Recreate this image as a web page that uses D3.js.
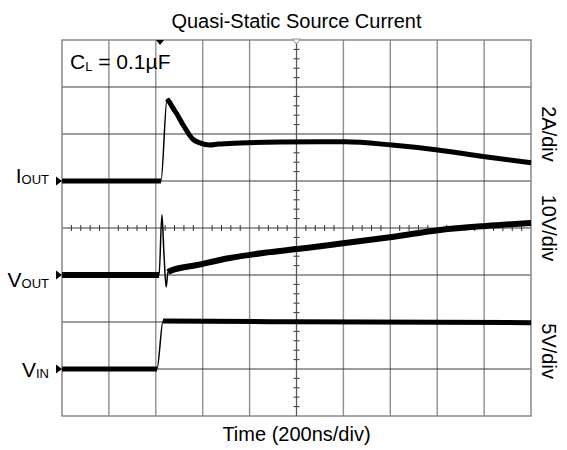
<!DOCTYPE html>
<html><head><meta charset="utf-8">
<script src="https://cdn.jsdelivr.net/npm/d3@7"></script>
<style>
body{margin:0;background:#fff}
svg{display:block}
text{font-family:"Liberation Sans",Arial,Helvetica,sans-serif;fill:#000}
</style>
</head><body>
<svg id="chart" width="567" height="450"></svg>
<script>
// ---------- data ----------
const chartTitle = "Quasi-Static Source Current";
const xAxisLabel = "Time (200ns/div)";
const noteMain = "C";
const noteSub = "L";
const noteRest = " = 0.1µF";
const nsPerDiv = 200;
const xDivCount = 10;
const yDivCount = 8;
const triggerTime = 418;

const channelMain = ["I", "V", "V"];
const channelSub = ["OUT", "OUT", "IN"];
const channelScaleLabel = ["2A/div", "10V/div", "5V/div"];
const channelPerDiv = [2, 10, 5];
const channelGroundDiv = [1, -1, -3];
// fast-edge windows (ns) drawn thin
const channelEdge = [[424, 446], [414, 452], [405, 429]];

const iOutTime = [0, 422, 448, 460, 473, 488, 503, 518, 533, 546, 559, 588, 631, 665, 759, 930, 1100, 1207, 1407, 1603, 1804, 2000];
const iOutAmps = [0, 0, 3.49, 3.33, 3.11, 2.88, 2.62, 2.36, 2.12, 1.92, 1.77, 1.62, 1.53, 1.57, 1.62, 1.66, 1.67, 1.67, 1.53, 1.32, 1.03, 0.78];

const vOutTime = [0, 414, 426, 435, 444, 452, 461, 576, 716, 857, 1002, 1143, 1207, 1407, 1612, 1808, 2000];
const vOutVolts = [0, 0, 12.8, 4.3, -2.55, 0.6, 0.85, 2.13, 3.62, 4.68, 5.53, 6.38, 6.81, 8.09, 9.57, 10.43, 11.06];

const vInTime = [0, 405, 431, 1000, 2000];
const vInVolts = [0, 0, 5.1, 5.02, 4.93];

const traceTimes = [iOutTime, vOutTime, vInTime];
const traceValues = [iOutAmps, vOutVolts, vInVolts];

// ---------- layout ----------
const L = 62, R = 531, T = 40, B = 416;
const svg = d3.select("#chart");
const x = d3.scaleLinear().domain([0, xDivCount * nsPerDiv]).range([L, R]);
const yDiv = d3.scaleLinear().domain([-yDivCount / 2, yDivCount / 2]).range([B, T]);
const labelDiv = [0.96, -1.25, -3.17];
const scaleLabelDiv = [2, 0, -2.62];

// grid: vertical lines (gray)
const g = svg.append("g");
g.selectAll("line.v").data(d3.range(1, xDivCount)).join("line")
  .attr("x1", d => x(d * nsPerDiv)).attr("x2", d => x(d * nsPerDiv))
  .attr("y1", T).attr("y2", B)
  .attr("stroke", "#8f8f8f").attr("stroke-width", 1.4);
// horizontal lines (dark)
g.selectAll("line.h").data(d3.range(-yDivCount / 2 + 1, yDivCount / 2)).join("line")
  .attr("x1", L).attr("x2", R)
  .attr("y1", d => yDiv(d)).attr("y2", d => yDiv(d))
  .attr("stroke", "#3a3a3a").attr("stroke-width", 1);
// border
g.append("rect").attr("x", L).attr("y", T).attr("width", R - L).attr("height", B - T)
  .attr("fill", "none").attr("stroke", "#808080").attr("stroke-width", 1.4);

// minor ticks on center axes
const minorX = d3.range(1, xDivCount * 5).filter(i => i % 5 !== 0).map(i => i * nsPerDiv / 5);
g.selectAll("line.mx").data(minorX).join("line")
  .attr("x1", d => x(d)).attr("x2", d => x(d))
  .attr("y1", yDiv(0) - 3).attr("y2", yDiv(0) + 3)
  .attr("stroke", "#333").attr("stroke-width", 1);
const minorY = d3.range(1, yDivCount * 5).filter(i => i % 5 !== 0).map(i => -yDivCount / 2 + i / 5);
g.selectAll("line.my").data(minorY).join("line")
  .attr("x1", x(xDivCount * nsPerDiv / 2) - 3).attr("x2", x(xDivCount * nsPerDiv / 2) + 3)
  .attr("y1", d => yDiv(d)).attr("y2", d => yDiv(d))
  .attr("stroke", "#333").attr("stroke-width", 1);
g.append("line")
  .attr("x1", x(xDivCount * nsPerDiv / 2)).attr("x2", x(xDivCount * nsPerDiv / 2))
  .attr("y1", T).attr("y2", B).attr("stroke", "#555").attr("stroke-width", 1);

// top markers
const tx = x(triggerTime);
svg.append("path").attr("d", `M${tx - 4},${T} L${tx + 4},${T} L${tx},${T + 5} Z`).attr("fill", "#000");
const cx = x(1000);
svg.append("path").attr("d", `M${cx - 4},${T - 1} L${cx + 4},${T - 1} L${cx},${T + 4} Z`)
  .attr("fill", "#fff").attr("stroke", "#888").attr("stroke-width", 1);

// traces
traceTimes.forEach((times, k) => {
  const pts = times.map((t, i) => [t, traceValues[k][i]]);
  const line = d3.line()
    .x(d => x(d[0]))
    .y(d => yDiv(channelGroundDiv[k] + d[1] / channelPerDiv[k]))
    .curve(d3.curveMonotoneX);
  svg.append("path").attr("d", line(pts))
    .attr("fill", "none").attr("stroke", "#000").attr("stroke-width", 1.5)
    .attr("stroke-linejoin", "round");
  const [e0, e1] = channelEdge[k];
  const pre = pts.filter(d => d[0] <= e0);
  const post = pts.filter(d => d[0] >= e1);
  const thick = k === 1 ? 6 : 5;
  [pre, post].forEach(seg => {
    svg.append("path").attr("d", line(seg))
      .attr("fill", "none").attr("stroke", "#000").attr("stroke-width", thick)
      .attr("stroke-linejoin", "round");
  });
  // ground marker
  const gy = yDiv(channelGroundDiv[k]);
  svg.append("path").attr("d", `M${L - 6},${gy - 4.5} L${L},${gy} L${L - 6},${gy + 4.5} Z`).attr("fill", "#000");
});

// channel labels
channelMain.forEach((m, k) => {
  const t = svg.append("text").attr("x", 49).attr("y", yDiv(labelDiv[k]))
    .attr("text-anchor", "end").attr("font-size", 21);
  t.append("tspan").text(m);
  t.append("tspan").attr("font-size", 13).attr("dy", 1).text(channelSub[k]);
});

// scale labels (rotated)
channelScaleLabel.forEach((s, k) => {
  const yy = yDiv(scaleLabelDiv[k]);
  svg.append("text").attr("transform", `translate(549,${yy}) rotate(90)`)
    .attr("text-anchor", "middle").attr("dominant-baseline", "central")
    .attr("font-size", 20).text(s);
});

// title & x label
svg.append("text").attr("x", x(1000)).attr("y", 28).attr("text-anchor", "middle")
  .attr("font-size", 20).text(chartTitle);
svg.append("text").attr("x", x(1000)).attr("y", 441).attr("text-anchor", "middle")
  .attr("font-size", 20).text(xAxisLabel);

// CL note
const nt = svg.append("text").attr("x", 70).attr("y", 69).attr("font-size", 21);
nt.append("tspan").text(noteMain);
nt.append("tspan").attr("font-size", 13).attr("dy", 2).text(noteSub);
nt.append("tspan").attr("dy", -2).text(noteRest);
</script>
</body></html>
